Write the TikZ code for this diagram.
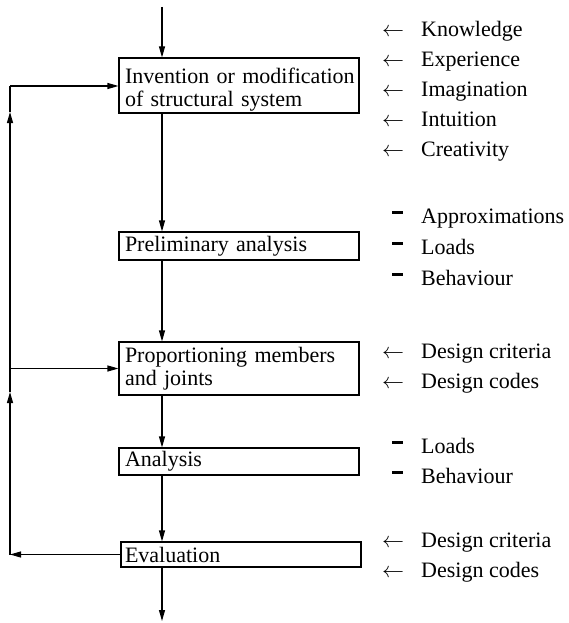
\documentclass[tikz,border=0pt]{standalone}
\usepackage{fix-cm}
\usepackage{fontspec}
\setmainfont{Liberation Serif}
\usetikzlibrary{arrows.meta}
\tikzset{
	box/.style={draw, line width=1.1pt, text width=228pt, align=left, inner xsep=6pt, inner ysep=0pt, font=\fontsize{22}{23}\selectfont},
	flow/.style={line width=1.1pt, -{Triangle[length=11pt,width=6pt]}},
	line/.style={line width=1.1pt},
	side/.style={anchor=base west, inner sep=0pt, font=\fontsize{22}{23}\selectfont},
}
\newcommand{\inarrow}{\makebox[39pt][l]{$\leftarrow$}}
\newcommand{\inbar}{\makebox[39pt][l]{\hspace{10pt}\rule[9pt]{11pt}{3.5pt}}}

\begin{document}
\begin{tikzpicture}[x=1pt,y=-1pt]
		%%%%% START %%%%%
		\useasboundingbox (0,0) rectangle (568,623);
		
		\node[box, minimum height=55pt] (inv) at (239, 85.5) {\rule{0pt}{23pt}\mbox{Invention or modification}\\of structural system};
		\node[box, minimum height=28pt] (prelim) at (239, 246) {Preliminary analysis};
		\node[box, minimum height=53pt] (prop) at (239, 368.5) {\mbox{Proportioning members}\\and joints};
		\node[box, minimum height=27pt] (anal) at (239, 461.5) {Analysis};
		\node[box, minimum height=25pt, text width=232pt, inner xsep=4pt] (eval) at (241, 554.5) {Evaluation};
		
		\coordinate (top) at (162, 7);
		\coordinate (bottom) at (162, 621);
		\coordinate (c1) at (10, 86);
		\coordinate (c2) at (10, 368.5);
		\coordinate (c3) at (10, 554.5);
		\coordinate (up1) at (10, 112);
		\coordinate (up2) at (10, 392);
		
		% main flow
		\draw[flow] (top) -- (top |- inv.north);
		\draw[flow] (top |- inv.south) -- (top |- prelim.north);
		\draw[flow] (top |- prelim.south) -- (top |- prop.north);
		\draw[flow] (top |- prop.south) -- (top |- anal.north);
		\draw[flow] (top |- anal.south) -- (top |- eval.north);
		\draw[flow] (top |- eval.south) -- (bottom);
		
		% feedback loop
		\draw[flow] (eval.west) -- (c3);
		\draw[flow] (c3) -- (up2);
		\draw[line] (up2) -- (c2);
		\draw[flow] (c2) -- (up1);
		\draw[line] (up1) -- (c1);
		\draw[flow] (c1) -- (c1 -| inv.west);
		\draw[flow] (c2) -- (c2 -| prop.west);
		
		% inputs
		\node[side] (know) at (382, 36.5) {\inarrow Knowledge};
		\node[side] (exp) at (382, 66.5) {\inarrow Experience};
		\node[side] (imag) at (382, 96.5) {\inarrow Imagination};
		\node[side] (intu) at (382, 126.5) {\inarrow Intuition};
		\node[side] (crea) at (382, 156.5) {\inarrow Creativity};
		
		\node[side] (approx) at (382, 223) {\inbar Approximations};
		\node[side] (loadsA) at (382, 254) {\inbar Loads};
		\node[side] (behavA) at (382, 285) {\inbar Behaviour};
		
		\node[side] (critA) at (382, 358) {\inarrow Design criteria};
		\node[side] (codesA) at (382, 388) {\inarrow Design codes};
		
		\node[side] (loadsB) at (382, 453) {\inbar Loads};
		\node[side] (behavB) at (382, 483) {\inbar Behaviour};
		
		\node[side] (critB) at (382, 547) {\inarrow Design criteria};
		\node[side] (codesB) at (382, 577) {\inarrow Design codes};
		
		%%%%% END %%%%%
\end{tikzpicture}
\end{document}
